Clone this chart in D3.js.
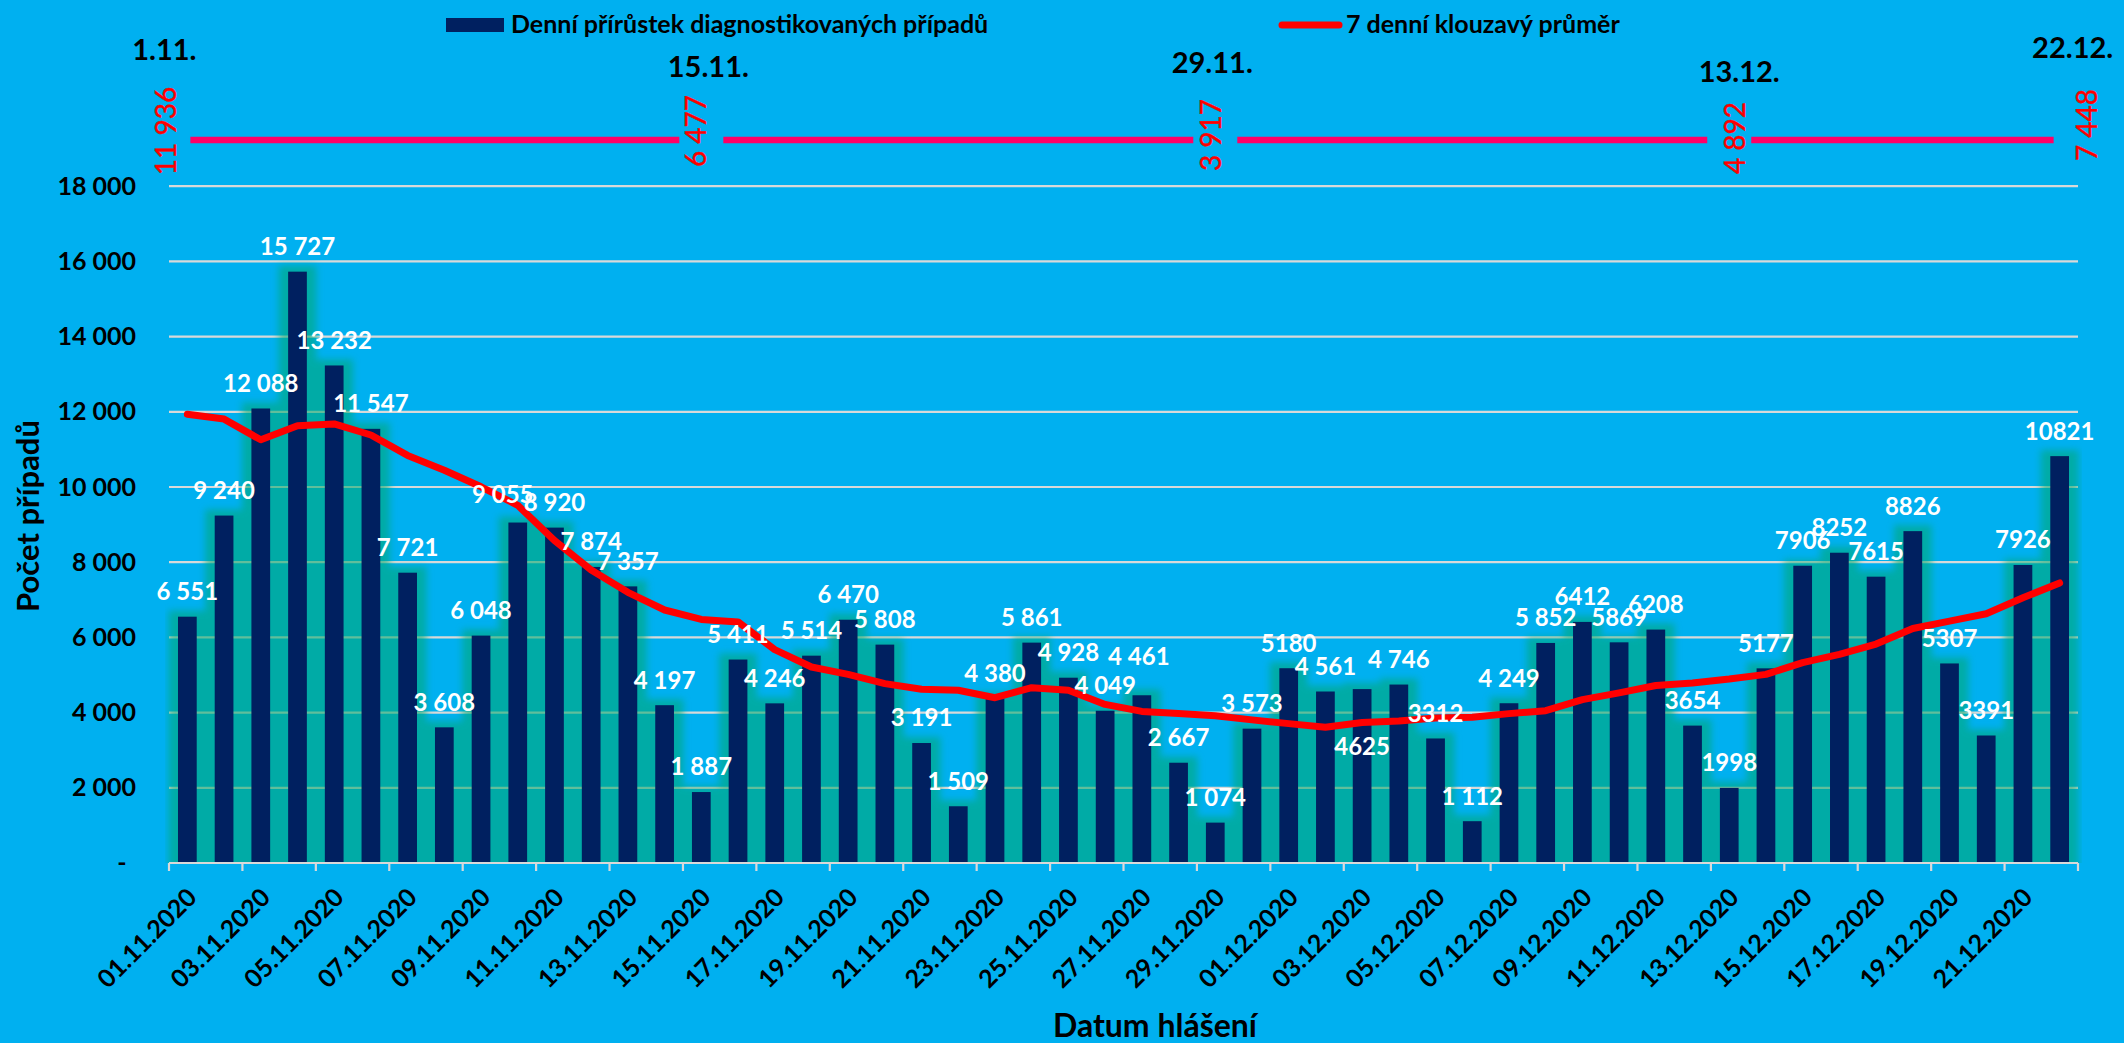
<!DOCTYPE html>
<html><head><meta charset="utf-8">
<script src="https://cdn.jsdelivr.net/npm/d3@7"></script>
<style>
html,body{margin:0;padding:0;background:#00B0F0;overflow:hidden;}
svg{display:block;font-family:Lato,"Open Sans",sans-serif;}
</style></head><body>
<svg id="chart" width="2124" height="1043"></svg>
<script>
// ---------------- DATA ----------------
const categories = [
 "01.11.2020","02.11.2020","03.11.2020","04.11.2020","05.11.2020","06.11.2020","07.11.2020","08.11.2020","09.11.2020","10.11.2020",
 "11.11.2020","12.11.2020","13.11.2020","14.11.2020","15.11.2020","16.11.2020","17.11.2020","18.11.2020","19.11.2020","20.11.2020",
 "21.11.2020","22.11.2020","23.11.2020","24.11.2020","25.11.2020","26.11.2020","27.11.2020","28.11.2020","29.11.2020","30.11.2020",
 "01.12.2020","02.12.2020","03.12.2020","04.12.2020","05.12.2020","06.12.2020","07.12.2020","08.12.2020","09.12.2020","10.12.2020",
 "11.12.2020","12.12.2020","13.12.2020","14.12.2020","15.12.2020","16.12.2020","17.12.2020","18.12.2020","19.12.2020","20.12.2020",
 "21.12.2020","22.12.2020"];
const dailyCases = [
 6551,9240,12088,15727,13232,11547,7721,3608,6048,9055,
 8920,7874,7357,4197,1887,5411,4246,5514,6470,5808,
 3191,1509,4380,5861,4928,4049,4461,2667,1074,3573,
 5180,4561,4625,4746,3312,1112,4249,5852,6412,5869,
 6208,3654,1998,5177,7906,8252,7615,8826,5307,3391,
 7926,10821];
const barLabels = [
 "6 551","9 240","12 088","15 727","13 232","11 547","7 721","3 608","6 048","9 055",
 "8 920","7 874","7 357","4 197","1 887","5 411","4 246","5 514","6 470","5 808",
 "3 191","1 509","4 380","5 861","4 928","4 049","4 461","2 667","1 074","3 573",
 "5180","4 561","4625","4 746","3312","1 112","4 249","5 852","6412","5869",
 "6208","3654","1998","5177","7906","8252","7615","8826","5307","3391",
 "7926","10821"];
const movingAvg7 = [
 11936,11806,11255,11628,11678,11383,10840,10447,10005,9513,
 8577,7793,7200,6729,6477,6412,5675,5213,5016,4771,
 4622,4593,4396,4662,4593,4218,4032,3973,3917,3806,
 3707,3609,3737,3777,3856,3875,3973,4051,4346,4524,
 4721,4790,4892,5016,5330,5548,5822,6237,6434,6630,
 7053,7448];
const yTicks = [0,2000,4000,6000,8000,10000,12000,14000,16000,18000];
const annotCategories = ["01.11.2020","15.11.2020","29.11.2020","13.12.2020","22.12.2020"];
const annotDates = ["1.11.","15.11.","29.11.","13.12.","22.12."];
const annotValues = ["11 936","6 477","3 917","4 892","7 448"];
const legendItems = ["Denní přírůstek diagnostikovaných případů","7 denní klouzavý průměr"];
const yTitle = "Počet případů";
const xTitle = "Datum hlášení";

// ---------------- LAYOUT ----------------
const plotL = 169, plotR = 2078, baseY = 863, topY = 186.2;
const C = {bg:"#00B0F0", bar:"#002060", glow:"#00A86A", grid:"#D9D9D9", avg:"#FF0000", pink:"#FF0066", red:"#FF0000"};
// manual nudges of individual data labels (moved by hand in the original)
const labelNudge = {9:[-15,-3], 26:[-3,-14], 32:[0,82]};
// annotation placement relative to category centre
const annotDateDx = [-23, 7, -3, 10, 13];
const annotDateY  = [60, 77, 73, 82, 58];
const annotValDx  = [-21, -5, -4, 6, 28];
const annotValY   = [131, 131, 135, 138, 125];

const svg = d3.select("#chart");
const fmt = d3.formatLocale({decimal:",", thousands:" ", grouping:[3], currency:["",""]}).format(",d");

const x = d3.scaleBand().domain(categories).range([plotL, plotR]).paddingInner(0.49).paddingOuter(0.245);
const y = d3.scaleLinear().domain([0, 18000]).range([baseY, topY]);
const bw = x.bandwidth(), step = x.step();
const cx = c => x(c) + bw/2;

svg.append("rect").attr("width",2124).attr("height",1043).attr("fill",C.bg);

// gridlines
svg.append("g").selectAll("line").data(yTicks.filter(d=>d>0)).join("line")
  .attr("x1",plotL).attr("x2",plotR).attr("y1",d=>y(d)).attr("y2",d=>y(d))
  .attr("stroke",C.grid).attr("stroke-width",2.2);

// glow filter
const defs = svg.append("defs");
defs.append("filter").attr("id","blur").attr("x","-50%").attr("y","-20%").attr("width","200%").attr("height","140%")
  .append("feGaussianBlur").attr("stdDeviation",3.5);
defs.append("clipPath").attr("id","plotclip").append("rect")
  .attr("x",plotL-4).attr("y",0).attr("width",plotR-plotL+8).attr("height",baseY);

const data = categories.map((c,i)=>({c, v:dailyCases[i], i}));

svg.append("g").attr("clip-path","url(#plotclip)")
  .append("g").attr("filter","url(#blur)").attr("opacity",0.55)
  .selectAll("rect").data(data).join("rect")
  .attr("x",d=>x(d.c)-9.5).attr("width",bw+19)
  .attr("y",d=>y(d.v)-6).attr("height",d=>baseY-y(d.v)+20)
  .attr("fill",C.glow);

// bars
svg.append("g").selectAll("rect").data(data).join("rect")
  .attr("x",d=>x(d.c)).attr("width",bw)
  .attr("y",d=>y(d.v)).attr("height",d=>baseY-y(d.v))
  .attr("fill",C.bar);

// x axis line + ticks at every 2nd category boundary
const xa = svg.append("g");
xa.append("line").attr("x1",plotL).attr("x2",plotR).attr("y1",baseY).attr("y2",baseY)
  .attr("stroke",C.grid).attr("stroke-width",2.2);
const boundaries = categories.filter((c,i)=>i%2===0).map(c=>x(c)-(step-bw)/2).concat([plotR]);
xa.selectAll("line.tk").data(boundaries).join("line").attr("class","tk")
  .attr("x1",d=>d).attr("x2",d=>d).attr("y1",baseY).attr("y2",baseY+8)
  .attr("stroke",C.grid).attr("stroke-width",2.2);
const tickCats = categories.filter((c,i)=>i%2===0);
xa.selectAll("text").data(tickCats).join("text")
  .attr("transform",d=>`translate(${cx(d)+11},${baseY+36}) rotate(-45)`)
  .attr("text-anchor","end").attr("font-size",25).attr("font-weight",700).attr("fill","#000")
  .text(d=>d);

// y axis labels
const ya = svg.append("g").attr("transform",`translate(136,0)`)
  .call(d3.axisLeft(y).tickValues(yTicks.filter(d=>d>0)).tickSize(0).tickPadding(0).tickFormat(fmt));
ya.select(".domain").remove();
ya.selectAll("text").attr("font-size",25).attr("font-weight",700).attr("fill","#000")
  .attr("font-family","Lato,'Open Sans',sans-serif");
svg.append("text").attr("x",122).attr("y",y(0)).attr("dy","0.32em").attr("text-anchor","middle")
  .attr("font-size",25).attr("font-weight",700).text("-");

// moving average line
svg.append("path").datum(categories.map((c,i)=>[cx(c), y(movingAvg7[i])]))
  .attr("d", d3.line()).attr("fill","none").attr("stroke",C.avg).attr("stroke-width",7)
  .attr("stroke-linejoin","round").attr("stroke-linecap","round");

// bar data labels
svg.append("g").selectAll("text").data(data).join("text")
  .attr("x",d=>cx(d.c)+(labelNudge[d.i]?labelNudge[d.i][0]:0))
  .attr("y",d=>y(d.v)-25+(labelNudge[d.i]?labelNudge[d.i][1]:0))
  .attr("dy","0.35em").attr("text-anchor","middle")
  .attr("font-size",24).attr("font-weight",700).attr("fill","#fff")
  .text(d=>barLabels[d.i]);

// top annotation: pink reference line segments with values
const lineY = 140;
const aX = annotCategories.map(cx);
const segs = d3.pairs(aX).map(([a,b],k)=>[a+(k===0?3:22), b-(k===annotCategories.length-2?6:22)]);
svg.append("g").selectAll("line").data(segs).join("line")
  .attr("x1",d=>d[0]).attr("x2",d=>d[1]).attr("y1",lineY).attr("y2",lineY)
  .attr("stroke",C.pink).attr("stroke-width",6.5);
svg.append("g").selectAll("text").data(annotValues).join("text")
  .attr("transform",(d,k)=>`translate(${aX[k]+annotValDx[k]},${annotValY[k]}) rotate(-90)`)
  .attr("text-anchor","middle").attr("dy","0.35em")
  .attr("font-size",28).attr("fill",C.red).attr("stroke",C.red).attr("stroke-width",0.4).text(d=>d);
svg.append("g").selectAll("text").data(annotDates).join("text")
  .attr("x",(d,k)=>aX[k]+annotDateDx[k]).attr("y",(d,k)=>annotDateY[k])
  .attr("text-anchor","middle").attr("font-size",29).attr("font-weight",700).attr("fill","#000")
  .text(d=>d);

// legend
const lg = svg.append("g");
lg.append("rect").attr("x",446).attr("y",18).attr("width",58).attr("height",14).attr("fill",C.bar);
lg.append("text").attr("x",511).attr("y",33).attr("font-size",25).attr("font-weight",700).text(legendItems[0]);
lg.append("line").attr("x1",1282).attr("x2",1339).attr("y1",25).attr("y2",25)
  .attr("stroke",C.avg).attr("stroke-width",7).attr("stroke-linecap","round");
lg.append("text").attr("x",1346).attr("y",33).attr("font-size",25).attr("font-weight",700).text(legendItems[1]);

// axis titles
svg.append("text").attr("transform","translate(28,516) rotate(-90)").attr("text-anchor","middle")
  .attr("dy","0.35em").attr("font-size",31).attr("font-weight",700).text(yTitle);
svg.append("text").attr("x",1155).attr("y",1037).attr("text-anchor","middle")
  .attr("font-size",32).attr("font-weight",700).text(xTitle);
</script>
</body></html>
